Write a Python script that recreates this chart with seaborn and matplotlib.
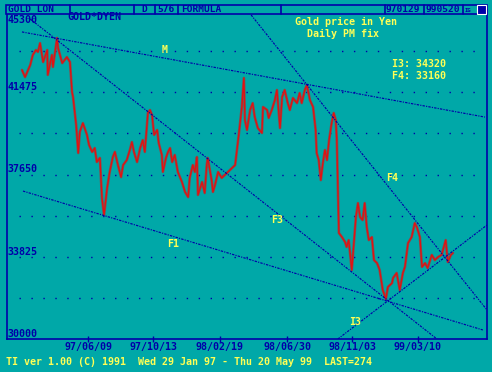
import numpy as np
import pandas as pd
import matplotlib
matplotlib.use('Agg')
import matplotlib.pyplot as plt
import seaborn as sns
from matplotlib.patches import Rectangle
from matplotlib.lines import Line2D

# Gold price in Yen, daily PM fix (traced), days since 1997-01-29
days = [3, 9, 19, 24, 30, 34, 38, 44, 52, 53,
        61, 63, 71, 73, 81, 90, 96, 100, 102, 108,
        112, 115, 121, 129, 133, 139, 144, 148, 154, 158,
        162, 168, 173, 179, 183, 189, 195, 199, 206, 212,
        216, 220, 226, 232, 237, 241, 247, 251, 255, 259,
        265, 268, 274, 276, 282, 286, 290, 294, 299, 305,
        313, 319, 325, 328, 334, 338, 342, 344, 352, 357,
        361, 363, 371, 373, 377, 383, 390, 396, 402, 410,
        416, 419, 423, 429, 433, 435, 439, 445, 450, 454,
        460, 468, 470, 478, 481, 487, 493, 497, 503, 507,
        512, 518, 522, 528, 536, 541, 545, 551, 555, 561,
        567, 572, 574, 578, 582, 586, 590, 594, 598, 603,
        607, 611, 613, 615, 617, 623, 629, 632, 636, 642,
        646, 650, 654, 658, 663, 667, 671, 675, 681, 685,
        691, 696, 702, 708, 712, 720, 722, 729, 735, 741,
        745, 751, 758, 764, 768, 774, 778, 784, 789, 797,
        803, 809, 816, 824, 828, 834, 838]
price = [42510, 42180, 42740, 43210, 43440, 43350, 43760, 42880, 43440, 42280,
         43210, 42650, 44000, 43530, 42830, 43110, 42880, 41490, 41250, 39950,
         38650, 39630, 40040, 39490, 39020, 38700, 38880, 38230, 38420, 36560,
         35770, 37020, 37770, 38460, 38700, 38090, 37530, 38090, 38320, 38790,
         39160, 38700, 38230, 38880, 39250, 38700, 40510, 40650, 40420, 39490,
         39720, 39110, 38560, 37770, 38420, 38700, 38880, 38230, 38560, 37770,
         37300, 36840, 36600, 37490, 38090, 37770, 38460, 36700, 37300, 36790,
         38090, 38420, 37300, 36840, 37160, 37770, 37490, 37630, 37770, 37950,
         38090, 38700, 39490, 40790, 42140, 40180, 39720, 40650, 40970, 40320,
         39810, 39580, 40790, 40650, 40280, 40650, 41110, 41580, 39810, 41250,
         41580, 40970, 40650, 41210, 40970, 41440, 40970, 41580, 41810, 41110,
         40790, 39720, 38650, 38320, 37390, 38180, 38790, 38320, 39250, 40040,
         40510, 40180, 39250, 37070, 34930, 34740, 34510, 34280, 34600, 33210,
         34460, 35670, 36320, 35670, 35530, 36320, 35210, 34600, 34740, 33670,
         33530, 33210, 32280, 31860, 32420, 32600, 32840, 33070, 32280, 33070,
         33350, 34460, 34740, 35390, 35210, 34740, 33350, 33530, 33300, 33910,
         33670, 33810, 33910, 34600, 33580, 33910, 34000]

# trend lines (start / end in days and yen)
trend_names = ['M', 'F3', 'F1', 'F4', 'I3']
trend_d0 = [3, 19, 5, 447, 615]
trend_p0 = [44280, 44880, 36880, 45070, 30000]
trend_d1 = [900, 807, 896, 904, 904]
trend_p1 = [40320, 30000, 30420, 31350, 35300]
label_day = [280, 497, 295, 720, 648]
label_price = [43440, 35530, 34420, 37490, 30790]

ytick_values = [30000, 33825, 37650, 41475]
ytick_labels = ['30000', '33825', '37650', '41475']
grid_levels = [31912.5, 33825, 35737.5, 37650, 39562.5, 41475, 43387.5]
xtick_dates = ['1997-06-09', '1997-10-13', '1998-02-19', '1998-06-30', '1998-11-03', '1999-03-10']
xtick_labels = ['97/06/09', '97/10/13', '98/02/19', '98/06/30', '98/11/03', '99/03/10']

W, H = 492, 372
TEAL = '#00a8a8'
BLUE = '#0000a8'
YELLOW = '#ffff55'
RED = '#e41010'
FS = 7.2

start = pd.Timestamp('1997-01-29')
df = pd.DataFrame({'date': start + pd.to_timedelta(days, unit='D'), 'price': price})

sns.set_theme(style='white')
plt.rcParams['font.family'] = ['DejaVu Sans Mono']
plt.rcParams['font.weight'] = 'bold'


def fx(x):
    return x / W


def fy(y):
    return 1 - y / H


fig = plt.figure(figsize=(W / 100, H / 100), dpi=100, facecolor=TEAL)
ax = fig.add_axes([fx(7), fy(339), fx(487) - fx(7), fy(10) - fy(339)])
ax.set_facecolor(TEAL)

# dotted horizontal grid
for lv in grid_levels:
    ax.plot([start - pd.Timedelta(days=3), start + pd.Timedelta(days=880)], [lv, lv],
            color=BLUE, lw=1.0, ls=(0, (1, 7.6)), zorder=1)

sns.lineplot(data=df, x='date', y='price', ax=ax, color='#7a5454', lw=1.9, zorder=3)
sns.lineplot(data=df, x='date', y='price', ax=ax, color=RED, lw=0.9, zorder=4)

for name, d0, p0, d1, p1 in zip(trend_names, trend_d0, trend_p0, trend_d1, trend_p1):
    ax.plot([start + pd.Timedelta(days=d0), start + pd.Timedelta(days=d1)], [p0, p1],
            color=BLUE, lw=0.85, ls=(0, (2, 1, 1, 1)), zorder=5)
for name, d, p in zip(trend_names, label_day, label_price):
    ax.text(start + pd.Timedelta(days=d), p, name, color=YELLOW, fontsize=FS,
            ha='center', va='center', zorder=6)

ax.set_xlim(start - pd.Timedelta(days=26), start + pd.Timedelta(days=904))
ax.set_ylim(30000, 45300)
ax.set_xlabel('')
ax.set_ylabel('')
ax.set_yticks([])
ax.set_xticks(pd.to_datetime(xtick_dates))
ax.set_xticklabels(xtick_labels)
ax.tick_params(axis='x', bottom=True, direction='inout', length=4, width=1,
               color=BLUE, labelcolor=BLUE, labelsize=FS, pad=0.5)

for v, lab in zip(ytick_values, ytick_labels):
    ax.annotate(lab, (0, v), xycoords=('axes fraction', 'data'), xytext=(0.5, 1.5),
                textcoords='offset points', color=BLUE, fontsize=FS, va='baseline', ha='left')
ax.annotate('45300', (0, 45300), xycoords=('axes fraction', 'data'), xytext=(0.5, -3.5),
            textcoords='offset points', color=BLUE, fontsize=FS, va='top', ha='left')

for side in ['left', 'bottom', 'right']:
    ax.spines[side].set_color(BLUE)
    ax.spines[side].set_linewidth(1.2)
ax.spines['top'].set_visible(False)

# header strip
fig.add_artist(Rectangle((fx(6), fy(14)), fx(487) - fx(6), fy(5) - fy(14),
                         transform=fig.transFigure, facecolor=TEAL, edgecolor=BLUE, lw=1.2))
for x in [70, 134, 155, 178, 281, 385, 424, 463]:
    fig.add_artist(Line2D([fx(x), fx(x)], [fy(5), fy(14)], color=BLUE, lw=1.2))
for x, s in [(8, 'GOLD LON'), (141, 'D'), (157, '576'), (181, 'FORMULA'),
             (386, '970129'), (425, '990520')]:
    fig.text(fx(x), fy(10), s, color=BLUE, fontsize=6.8, ha='left', va='center')
fig.text(fx(465), fy(10), 'IG', color=BLUE, fontsize=4, ha='left', va='center')
fig.add_artist(Rectangle((fx(477), fy(14)), fx(486) - fx(477), fy(5) - fy(14),
                         transform=fig.transFigure, facecolor=BLUE, edgecolor='white', lw=0.8))

fig.text(fx(67), fy(17), 'GOLD*DYEN', color=BLUE, fontsize=FS, ha='left', va='center')
fig.text(fx(346), fy(22), 'Gold price in Yen', color=YELLOW, fontsize=FS, ha='center', va='center')
fig.text(fx(343), fy(34), 'Daily PM fix', color=YELLOW, fontsize=FS, ha='center', va='center')
fig.text(fx(392), fy(64), 'I3: 34320', color=YELLOW, fontsize=FS, ha='left', va='center')
fig.text(fx(392), fy(76), 'F4: 33160', color=YELLOW, fontsize=FS, ha='left', va='center')
fig.text(fx(6), fy(362), 'TI ver 1.00 (C) 1991  Wed 29 Jan 97 - Thu 20 May 99  LAST=274',
         color=YELLOW, fontsize=FS, ha='left', va='center')

fig.savefig('out.png', dpi=100, facecolor=TEAL)
